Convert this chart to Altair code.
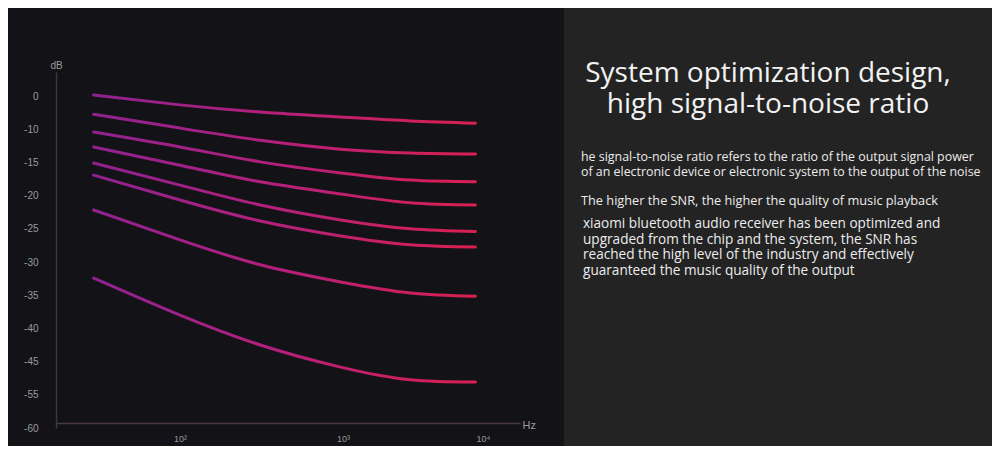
import altair as alt
import pandas as pd

# ---- data (axis units: x = decade position, y = evenly spaced tick units) ----
X_POS = [1.43, 2.0, 2.53, 3.06, 3.52, 3.95]
CURVES = {
    "c1": [0.2, -1.6, -2.9, -3.8, -4.5, -4.9],
    "c2": [-3.3, -5.8, -8.0, -9.6, -10.3, -10.5],
    "c3": [-6.5, -9.2, -11.9, -13.9, -15.2, -15.5],
    "c4": [-9.2, -12.5, -15.5, -17.7, -19.3, -19.7],
    "c5": [-12.1, -16.1, -19.7, -22.4, -24.0, -24.5],
    "c6": [-14.3, -18.8, -22.6, -25.3, -26.9, -27.3],
    "c7": [-20.6, -26.0, -30.5, -33.6, -35.6, -36.2],
    "c8": [-32.9, -39.6, -45.0, -49.0, -51.3, -51.7],
}
Y_TICK_POS = [0, -6, -12, -18, -24, -30, -36, -42, -48, -54, -60]
Y_TICK_LABELS = ["0", "-10", "-15", "-20", "-25", "-30", "-35", "-40", "-45", "-55", "-60"]
X_TICK_POS = [2.0, 3.076, 4.0]
X_TICK_LABELS = ["10²", "10³", "10⁴"]

TITLE_LINES = ["System optimization design,", "high signal-to-noise ratio"]
P1_LINES = [
    "he signal-to-noise ratio refers to the ratio of the output signal power",
    "of an electronic device or electronic system to the output of the noise",
]
P2_LINES = ["The higher the SNR, the higher the quality of music playback"]
P3_LINES = [
    "xiaomi bluetooth audio receiver has been optimized and",
    "upgraded from the chip and the system, the SNR has",
    "reached the high level of the industry and effectively",
    "guaranteed the music quality of the output",
]

rows = []
for name, vals in CURVES.items():
    for x, y in zip(X_POS, vals):
        rows.append({"curve": name, "x": x, "y": y})
df = pd.DataFrame(rows)
one = pd.DataFrame({"a": [0]})

y_expr = "[" + ",".join("'%s'" % s for s in Y_TICK_LABELS) + "][round(-datum.value/6)]"
x_expr = "datum.value < 2.5 ? '%s' : datum.value < 3.5 ? '%s' : '%s'" % tuple(X_TICK_LABELS)

grad = alt.Gradient(
    gradient="linear",
    stops=[
        alt.GradientStop(offset=0, color="#8e2290"),
        alt.GradientStop(offset=0.5, color="#b5207a"),
        alt.GradientStop(offset=1, color="#d9204f"),
    ],
    x1=0, x2=1, y1=0, y2=0,
)

panel = alt.Chart(one).mark_rect(fill="#232323").encode(
    x=alt.value(508), x2=alt.value(936), y=alt.value(-64), y2=alt.value(374)
)

lines = alt.Chart(df).mark_line(
    stroke=grad, strokeWidth=3, strokeCap="round", interpolate="natural"
).encode(
    x=alt.X("x:Q", scale=alt.Scale(domain=[1.1815, 4.2442], nice=False, zero=False),
            axis=alt.Axis(values=X_TICK_POS, labelExpr=x_expr, ticks=False, grid=False,
                          domainColor="#4a3842", domainWidth=1.5, offset=-5,
                          labelPadding=11, labelColor="#9a9a9a", labelFontSize=9,
                          labelFont="Liberation Sans",
                          title="Hz", titleX=466, titleY=2, titleAlign="left",
                          titleBaseline="middle", titleColor="#9a9a9a",
                          titleFontWeight="normal", titleFontSize=11,
                          titleFont="Liberation Sans")),
    y=alt.Y("y:Q", scale=alt.Scale(domain=[-60, 4.34], nice=False, zero=False),
            axis=alt.Axis(values=Y_TICK_POS, labelExpr=y_expr, ticks=False, grid=False,
                          domainColor="#3a393f", domainWidth=1.5,
                          labelPadding=18, labelColor="#9a9a9a", labelFontSize=10,
                          labelFont="Liberation Sans",
                          title="dB", titleAngle=0, titleX=0, titleY=-7,
                          titleAlign="center", titleBaseline="middle",
                          titleColor="#9a9a9a", titleFontWeight="normal",
                          titleFontSize=10, titleFont="Liberation Sans")),
    detail="curve:N",
)

FONT = "Open Sans"
title_txt = alt.Chart(one).mark_text(
    text=TITLE_LINES, align="center", baseline="alphabetic", font=FONT,
    fontSize=28, lineHeight=31, color="#f2f2f2"
).encode(x=alt.value(712), y=alt.value(10))

p1 = alt.Chart(one).mark_text(
    text=P1_LINES, align="left", baseline="alphabetic", font=FONT,
    fontSize=12.4, lineHeight=15, color="#ececec"
).encode(x=alt.value(525), y=alt.value(89))

p2 = alt.Chart(one).mark_text(
    text=P2_LINES, align="left", baseline="alphabetic", font=FONT,
    fontSize=12.75, lineHeight=15, color="#ececec"
).encode(x=alt.value(525), y=alt.value(133))

p3 = alt.Chart(one).mark_text(
    text=P3_LINES, align="left", baseline="alphabetic", font=FONT,
    fontSize=13.6, lineHeight=15.6, color="#ececec"
).encode(x=alt.value(527), y=alt.value(156))

chart = alt.layer(panel, lines, title_txt, p1, p2, p3).properties(
    width=464, height=356,
    autosize=alt.AutoSizeParams(type="none"),
    padding={"left": 48, "top": 64, "right": 472, "bottom": 18},
    background="#131217",
).configure_view(stroke=None)

chart.save("out.html", embed_options={"renderer": "svg", "actions": False})
